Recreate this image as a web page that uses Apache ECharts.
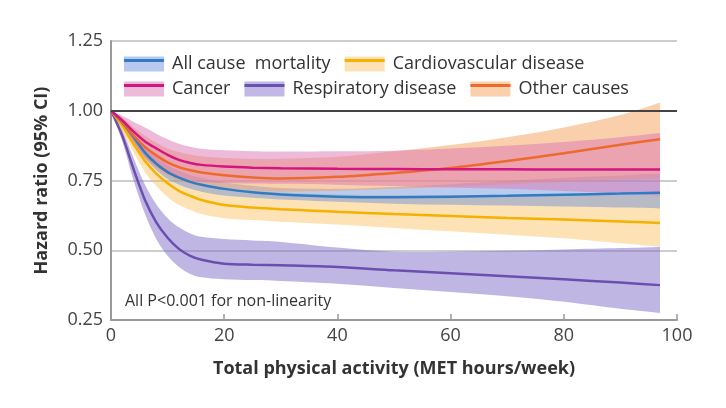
<!DOCTYPE html>
<html><head><meta charset="utf-8">
<script src="https://cdn.jsdelivr.net/npm/echarts/dist/echarts.min.js"></script>
<style>html,body{margin:0;padding:0;background:#fff}#c{width:726px;height:408px}</style>
</head><body><div id="c"></div><script>
// x positions (MET hours/week)
const X = [0,2,4,6,8,10,12,14,16,20,25,30,40,50,60,70,80,90,97];
// hazard ratio estimates and 95% CI bounds
const allCause  = [1,0.958,0.905,0.85,0.81,0.78,0.76,0.745,0.735,0.72,0.708,0.7,0.692,0.69,0.692,0.695,0.699,0.703,0.706];
const allCauseLo= [1,0.948,0.89,0.83,0.788,0.755,0.735,0.72,0.71,0.696,0.688,0.682,0.674,0.667,0.663,0.66,0.657,0.653,0.65];
const allCauseHi= [1,0.968,0.92,0.87,0.832,0.805,0.785,0.77,0.76,0.744,0.731,0.723,0.72,0.727,0.737,0.748,0.76,0.768,0.775];
const cardio    = [1,0.945,0.88,0.82,0.775,0.74,0.713,0.695,0.68,0.662,0.653,0.647,0.638,0.63,0.623,0.616,0.61,0.603,0.598];
const cardioLo  = [1,0.925,0.85,0.78,0.73,0.69,0.663,0.645,0.63,0.615,0.608,0.602,0.592,0.58,0.568,0.556,0.543,0.525,0.512];
const cardioHi  = [1,0.965,0.91,0.86,0.82,0.79,0.765,0.75,0.738,0.722,0.713,0.707,0.7,0.698,0.697,0.697,0.698,0.699,0.7];
const cancer    = [1,0.965,0.925,0.89,0.865,0.842,0.824,0.813,0.806,0.8,0.796,0.794,0.792,0.791,0.79,0.79,0.789,0.789,0.789];
const cancerLo  = [1,0.945,0.885,0.835,0.8,0.775,0.76,0.75,0.745,0.741,0.739,0.738,0.735,0.73,0.725,0.72,0.712,0.703,0.695];
const cancerHi  = [1,0.982,0.96,0.94,0.918,0.898,0.882,0.871,0.864,0.858,0.855,0.854,0.855,0.857,0.865,0.875,0.888,0.905,0.92];
const resp      = [1,0.91,0.79,0.68,0.6,0.545,0.505,0.48,0.466,0.452,0.448,0.446,0.44,0.428,0.418,0.407,0.396,0.384,0.375];
const respLo    = [1,0.89,0.75,0.63,0.54,0.48,0.44,0.415,0.403,0.396,0.393,0.39,0.38,0.365,0.35,0.335,0.315,0.29,0.275];
const respHi    = [1,0.93,0.83,0.735,0.665,0.615,0.582,0.56,0.548,0.54,0.535,0.53,0.51,0.495,0.495,0.498,0.503,0.508,0.512];
const other     = [1,0.96,0.91,0.87,0.84,0.815,0.798,0.787,0.779,0.769,0.761,0.757,0.763,0.777,0.795,0.82,0.848,0.878,0.898];
const otherLo   = [1,0.945,0.88,0.83,0.795,0.768,0.75,0.738,0.73,0.721,0.714,0.71,0.713,0.72,0.728,0.737,0.745,0.752,0.757];
const otherHi   = [1,0.975,0.94,0.91,0.885,0.865,0.852,0.843,0.837,0.831,0.828,0.828,0.835,0.855,0.877,0.905,0.94,0.985,1.03];
const yTicks = [0.25,0.5,0.75,1.0,1.25];
const xTicks = [0,20,40,60,80,100];

const FONT = 'Open Sans';
const names = ['All cause  mortality','Cardiovascular disease','Cancer','Respiratory disease','Other causes'];
const lineColors = ['#2f7cc4','#f5b000','#d3157f','#6a4fb0','#ec6a2c'];
const bandColors = ['rgba(100,140,220,0.45)','rgba(250,190,90,0.45)','rgba(220,120,180,0.5)','rgba(130,110,200,0.5)','rgba(245,160,90,0.5)'];
const bandIcon = ['#b9c8ee','#fde2b5','#edbbd9','#c2b8e6','#fad0ad'];
const lines = [allCause,cardio,cancer,resp,other];
const bands = [[allCauseLo,allCauseHi],[cardioLo,cardioHi],[cancerLo,cancerHi],[respLo,respHi],[otherLo,otherHi]];

function curve(pts){
  let d='';
  const t=1/6;
  for(let i=0;i<pts.length-1;i++){
    const p0=pts[Math.max(i-1,0)],p1=pts[i],p2=pts[i+1],p3=pts[Math.min(i+2,pts.length-1)];
    const c1=[p1[0]+(p2[0]-p0[0])*t,p1[1]+(p2[1]-p0[1])*t];
    const c2=[p2[0]-(p3[0]-p1[0])*t,p2[1]-(p3[1]-p1[1])*t];
    d+=' C'+c1[0]+','+c1[1]+' '+c2[0]+','+c2[1]+' '+p2[0]+','+p2[1];
  }
  return d;
}
function bandSeries(k){
  const lo=bands[k][0], hi=bands[k][1];
  return {
    type:'custom', name:'band'+k, silent:true, z:1,
    data: X.map((x,i)=>[x,lo[i],hi[i]]),
    encode:{x:0,y:[1,2]},
    renderItem:function(params,api){
      if(params.dataIndex!==0) return null;
      const top=X.map((x,i)=>api.coord([x,hi[i]]));
      const bot=X.map((x,i)=>api.coord([x,lo[i]])).reverse();
      const d='M'+top[0][0]+','+top[0][1]+curve(top)+' L'+bot[0][0]+','+bot[0][1]+curve(bot)+' Z';
      return {type:'path',shape:{pathData:d},style:{fill:bandColors[k],stroke:null}};
    }
  };
}
const series=[];
[3,1,0,4,2].forEach(k=>series.push(bandSeries(k)));
[3,1,0,4,2].forEach(k=>series.push({
  type:'line', name:names[k], data:X.map((x,i)=>[x,lines[k][i]]),
  smooth:0.3, showSymbol:false, symbol:'none', z:3,
  lineStyle:{color:lineColors[k],width:2.5}, itemStyle:{color:lineColors[k]},
  markLine: k===3 ? {silent:true,symbol:'none',label:{show:false},
    lineStyle:{color:'#444',width:2,type:'solid'},data:[{yAxis:1}]} : undefined
}));

function legendRow(items, top, band){
  return {
    left:124, top: band? top : top-3.5, padding:0, itemGap:14,
    icon:'rect', itemWidth:40, itemHeight: band?15:3, selectedMode:false,
    textStyle:{fontFamily:FONT,fontSize:18,color: band?'#333':'rgba(0,0,0,0)',padding:[0,0,0,3]},
    data: items.map(k=>({name:names[k],itemStyle:{color: band?bandIcon[k]:lineColors[k],borderWidth:0}}))
  };
}

const chart=echarts.init(document.getElementById('c'));
chart.setOption({
  animation:false,
  backgroundColor:'#fff',
  title:{text:'All P<0.001 for non-linearity',left:125,top:293,padding:0,
    textStyle:{fontFamily:FONT,fontSize:16,fontWeight:'normal',color:'#333'}},
  legend:[legendRow([0,1],55,true),legendRow([2,3,4],80,true),legendRow([0,1],55,false),legendRow([2,3,4],80,false)],
  grid:{left:111,right:49,top:41,bottom:88},
  xAxis:{type:'value',min:0,max:100,interval:20,
    name:'Total physical activity (MET hours/week)',nameLocation:'middle',nameGap:40,
    nameTextStyle:{fontFamily:FONT,fontSize:18,fontWeight:'bold',color:'#333'},
    axisLine:{show:true,lineStyle:{color:'#999',width:2}},
    axisTick:{show:true,inside:true,length:6,lineStyle:{color:'#999',width:1.5}},
    axisLabel:{fontFamily:FONT,fontSize:18,color:'#444',margin:7,
      formatter:v=>xTicks.includes(v)?String(v):''},
    splitLine:{show:false}},
  yAxis:{type:'value',min:0.25,max:1.25,interval:0.25,
    name:'Hazard ratio (95% CI)',nameLocation:'middle',nameGap:60,
    nameTextStyle:{fontFamily:FONT,fontSize:18,fontWeight:'bold',color:'#333'},
    axisLine:{show:true,lineStyle:{color:'#999',width:2}},
    axisTick:{show:false},
    axisLabel:{fontFamily:FONT,fontSize:18,color:'#444',margin:8,
      formatter:v=>{const t=yTicks.find(a=>Math.abs(a-v)<1e-6);return t===undefined?'':t.toFixed(2);}},
    splitLine:{show:true,lineStyle:{color:'#bdbdbd',width:1.5}}},
  series:series
});
</script></body></html>
